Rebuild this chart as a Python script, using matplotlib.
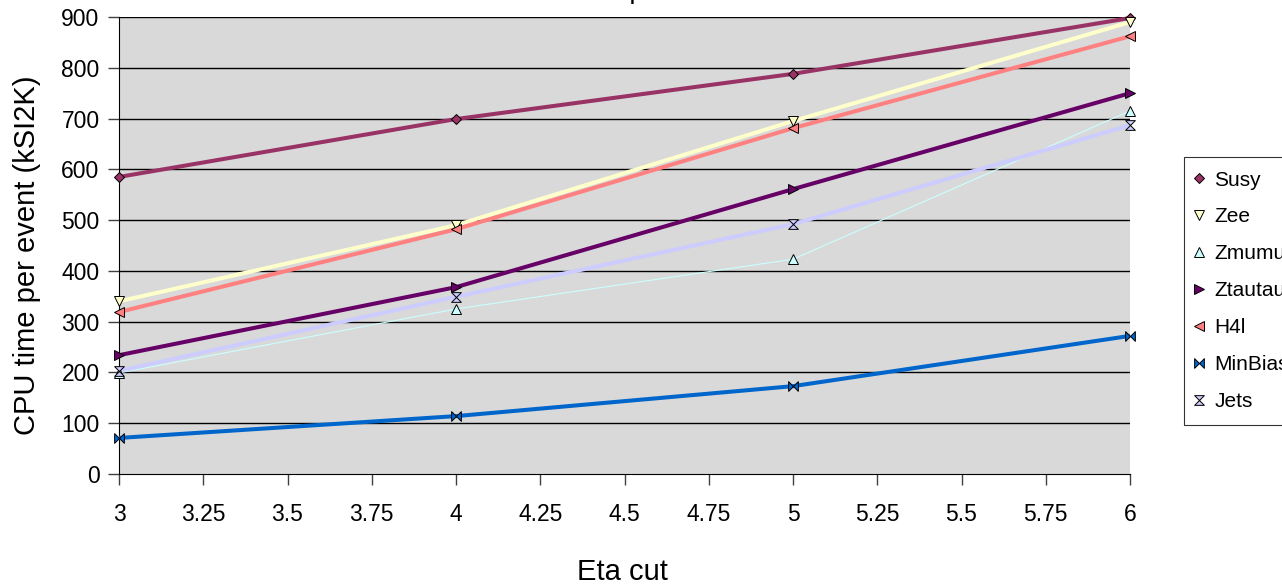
import matplotlib
matplotlib.use("Agg")
import matplotlib.pyplot as plt
from matplotlib.path import Path

plt.rcParams['font.family'] = ['Liberation Sans', 'DejaVu Sans']

eta = [3, 4, 5, 6]
susy = [585, 699, 788, 898]
zee = [340, 490, 695, 890]
zmumu = [199, 325, 423, 715]
ztautau = [234, 368, 561, 750]
h4l = [319, 482, 681, 862]
minbias = [71, 114, 173, 272]
jets = [203, 349, 492, 687]

x_ticks = [3, 3.25, 3.5, 3.75, 4, 4.25, 4.5, 4.75, 5, 5.25, 5.5, 5.75, 6]
x_tick_labels = ['3', '3.25', '3.5', '3.75', '4', '4.25', '4.5', '4.75', '5', '5.25', '5.5', '5.75', '6']
y_ticks = [0, 100, 200, 300, 400, 500, 600, 700, 800, 900]

bowtie = Path([(-1, -1), (-1, 1), (1, -1), (1, 1), (-1, -1)],
              [Path.MOVETO, Path.LINETO, Path.LINETO, Path.LINETO, Path.CLOSEPOLY])
hourglass = Path([(-1, 1), (1, 1), (-1, -1), (1, -1), (-1, 1)],
                 [Path.MOVETO, Path.LINETO, Path.LINETO, Path.LINETO, Path.CLOSEPOLY])

series = [
    ('Susy', susy, '#993366', 'D', 2.9, 5.5),
    ('Zee', zee, '#FFFFCC', 'v', 2.9, 7),
    ('Zmumu', zmumu, '#CCFFFF', '^', 0.8, 7),
    ('Ztautau', ztautau, '#660066', '>', 2.9, 7),
    ('H4l', h4l, '#FF8080', '<', 2.9, 7),
    ('MinBias', minbias, '#0066CC', bowtie, 2.9, 7),
    ('Jets', jets, '#CCCCFF', hourglass, 2.9, 7),
]

W, H = 1282, 587
fig = plt.figure(figsize=(W / 100, H / 100), dpi=100)
ax = fig.add_axes([119 / W, 1 - 474 / H, (1130 - 119) / W, (474 - 17) / H])
ax.set_facecolor('#D9D9D9')

for yv in y_ticks[1:]:
    ax.axhline(yv, color='black', lw=1.0, zorder=1)

handles = []
for name, vals, col, mk, lw, ms in series:
    ax.plot(eta, vals, color=col, lw=lw, zorder=3, clip_on=False, solid_capstyle='butt')
    ax.plot(eta, vals, ls='none', marker=mk, ms=ms, mfc=col, mec='black',
            mew=0.7, zorder=4, clip_on=False)
    h, = ax.plot([], [], ls='none', marker=mk, ms=ms, mfc=col, mec='black', mew=0.7, label=name)
    handles.append(h)

ax.set_xlim(3, 6)
ax.set_ylim(0, 900)
ax.set_xticks(x_ticks)
ax.set_xticklabels(x_tick_labels)
ax.set_yticks(y_ticks)
for s in ['top', 'right']:
    ax.spines[s].set_visible(False)
ax.spines['left'].set_color('black')
ax.spines['bottom'].set_color('black')
ax.tick_params(axis='both', direction='out', length=8, width=1, color='#404040', labelsize=16.5)
ax.tick_params(axis='x', pad=13)
ax.tick_params(axis='y', pad=6)

fig.text(27 / W, 1 - 255 / H, 'CPU time per event (kSI2K)', rotation=90,
         ha='center', va='center', fontsize=21)
fig.text(622 / W, 1 - 572 / H, 'Eta cut', ha='center', va='center', fontsize=21)
fig.text(624 / W, 1 + 1.5 / H, 'CPU time per event', ha='center', va='baseline', fontsize=20)

leg = fig.legend(handles=handles, loc='upper left', bbox_to_anchor=(1184 / W, 1 - 157 / H),
                 frameon=True, fancybox=False, fontsize=15, handlelength=0.1,
                 handletextpad=0.7, labelspacing=0.86, borderpad=0.65, borderaxespad=0)
leg.get_frame().set_edgecolor('black')
leg.get_frame().set_linewidth(0.8)
leg.get_frame().set_facecolor('white')

fig.savefig('out.png', dpi=100)
